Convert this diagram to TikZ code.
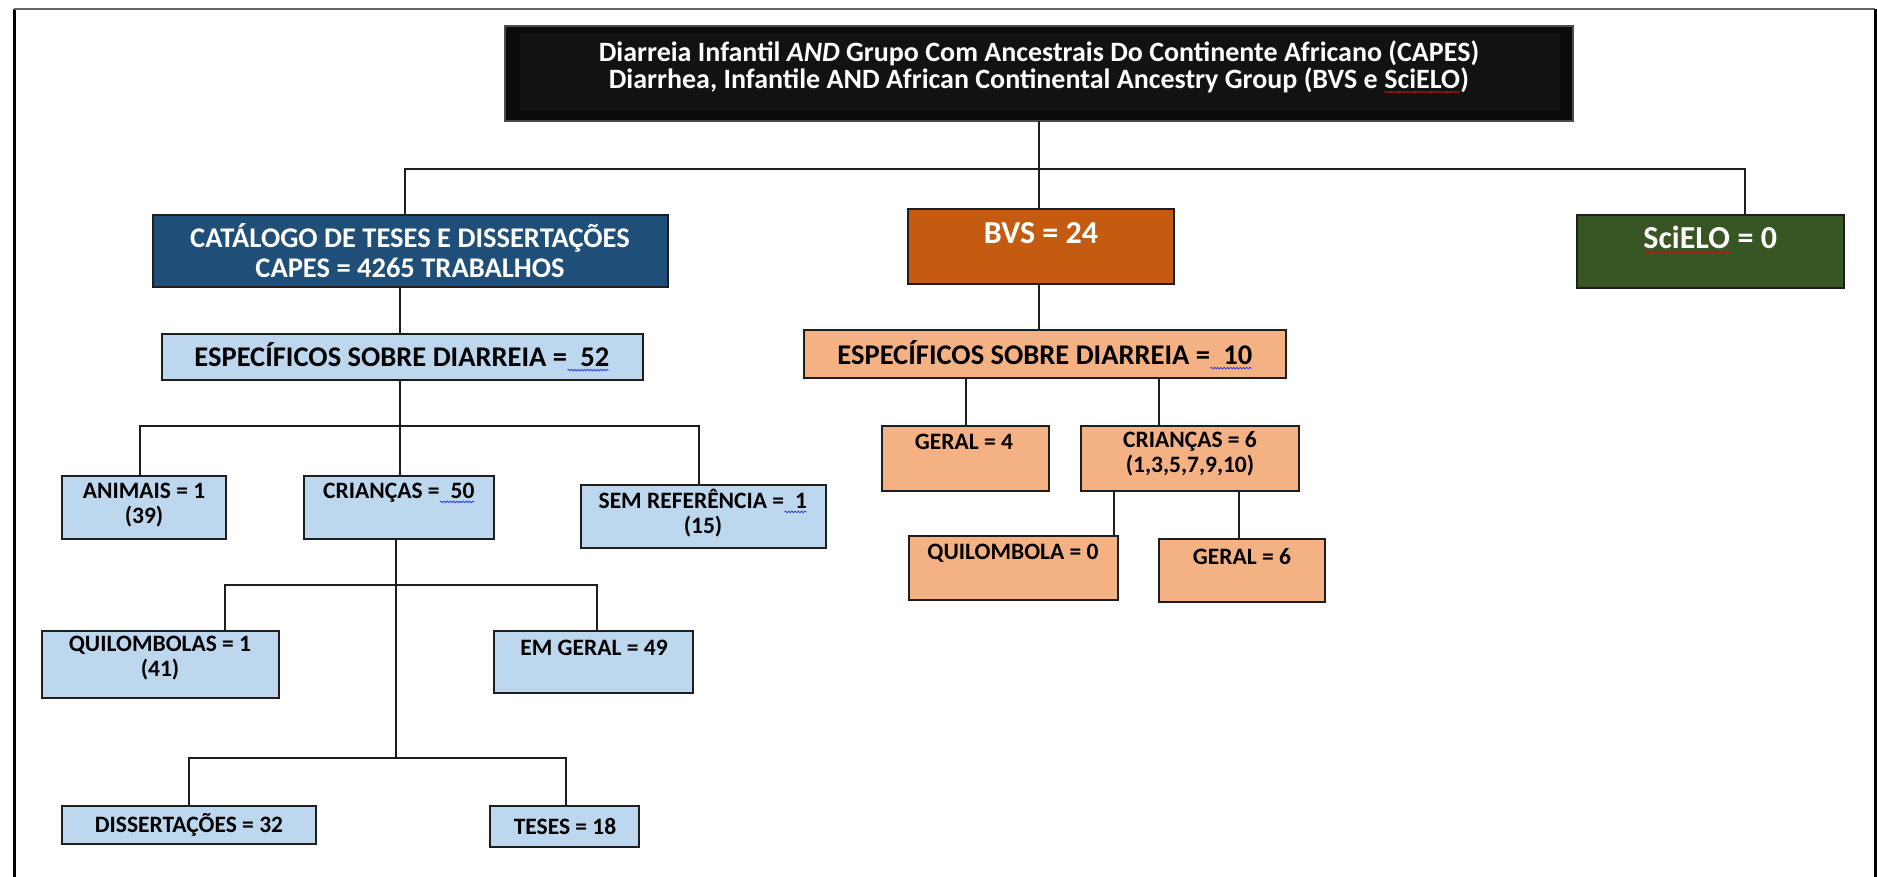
\documentclass[tikz,border=0pt]{standalone}
\usepackage{fontspec}
\setmainfont{Carlito}
\usetikzlibrary{decorations.pathmorphing}
\definecolor{capesblue}{HTML}{1F4E79}
\definecolor{bvsorange}{HTML}{C55A11}
\definecolor{scigreen}{HTML}{375623}
\definecolor{lblue}{HTML}{BDD7EE}
\definecolor{lorange}{HTML}{F4B183}
\definecolor{topfill}{HTML}{0B0B0B}
\definecolor{topinner}{HTML}{121212}
\definecolor{edge}{HTML}{1E1E1E}
\definecolor{wvblue}{HTML}{2030E0}
\definecolor{wvred}{HTML}{D01010}
\newcommand\wv[2]{\tikz[baseline=(wvx.base)]{\node[inner sep=0pt,outer sep=0pt,draw=none,fill=none](wvx){#2};\draw[#1,line width=0.7pt,decorate,decoration={snake,amplitude=0.8pt,segment length=3.2pt}] ([yshift=-3.5pt]wvx.base west) -- ([yshift=-3.5pt]wvx.base east);}}
\newcommand\bx[6]{\node[box,#6,anchor=north west,minimum width={#4-#2},minimum height={#5-#3}] (#1) at (#2,#3) {};}
\tikzset{
  box/.style={draw=edge,line width=1.8pt,inner sep=0pt,outer sep=0pt},
  link/.style={draw=edge,line width=1.7pt},
  txt/.style={inner sep=0pt,align=center},
  bigw/.style={txt,text=white,font=\bfseries\fontsize{28.5}{30}\selectfont},
  hugew/.style={txt,text=white,font=\bfseries\fontsize{32}{36}\selectfont},
  topw/.style={txt,text=white,font=\bfseries\fontsize{28}{27}\selectfont},
  bigk/.style={txt,text=black,font=\bfseries\fontsize{28.5}{30}\selectfont},
  smallk/.style={txt,text=black,font=\bfseries\fontsize{23.5}{25}\selectfont},
}
\begin{document}
\begin{tikzpicture}[x=1pt,y=-1pt]
\useasboundingbox (0,0) rectangle (1877,877);
\fill[white] (0,0) rectangle (1877,877);
% frame
\draw[line width=3pt,black] (14,877) -- (14,9);
\draw[line width=2pt,black!60] (14,9) -- (1875,9);
\draw[line width=3pt,black] (1875,9) -- (1875,877);

% boxes
\bx{top}{505}{26}{1573}{121}{fill=topfill,draw=black!70}
\fill[topinner] (520,33) rectangle (1560,111);
\bx{capes}{153}{215}{668}{287}{fill=capesblue}
\bx{bvs}{908}{209}{1174}{284}{fill=bvsorange}
\bx{scielo}{1577}{215}{1844}{288}{fill=scigreen}
\bx{esp52}{162}{334}{643}{380}{fill=lblue}
\bx{animais}{62}{476}{226}{539}{fill=lblue}
\bx{crian50}{304}{476}{494}{539}{fill=lblue}
\bx{semref}{581}{485}{826}{548}{fill=lblue}
\bx{quil}{42}{631}{279}{698}{fill=lblue}
\bx{emgeral}{494}{631}{693}{693}{fill=lblue}
\bx{diss}{62}{806}{316}{844}{fill=lblue}
\bx{teses}{490}{806}{639}{847}{fill=lblue}
\bx{esp10}{804}{330}{1286}{378}{fill=lorange}
\bx{geral4}{882}{426}{1049}{491}{fill=lorange}
\bx{crian6}{1081}{426}{1299}{491}{fill=lorange}
\bx{quil0}{909}{536}{1118}{600}{fill=lorange}
\bx{geral6}{1159}{539}{1325}{602}{fill=lorange}

% texts
\node[topw] (t-top) at (1039,67) {Diarreia Infantil \textit{AND} Grupo Com Ancestrais Do Continente Africano (CAPES)\\Diarrhea, Infantile AND African Continental Ancestry Group (BVS e \wv{wvred}{SciELO})};
\node[bigw] (t-capes) at (410,251) {CATÁLOGO DE TESES E DISSERTAÇÕES\\CAPES = 4265 TRABALHOS};
\node[hugew] (t-bvs) at (1041,233) {BVS = 24};
\node[hugew] (t-scielo) at (1710,240) {\wv{wvred}{SciELO} = 0};
\node[bigk] (t-esp52) at (402,357) {ESPECÍFICOS SOBRE DIARREIA =\wv{wvblue}{\ \ 52}};
\node[bigk] (t-esp10) at (1045,355) {ESPECÍFICOS SOBRE DIARREIA =\wv{wvblue}{\ \ 10}};
\node[smallk] (t-animais) at (144,505) {ANIMAIS = 1\\(39)};
\node[smallk] (t-crian50) at (399,493) {CRIANÇAS =\wv{wvblue}{\ \ 50}};
\node[smallk] (t-semref) at (703,513) {SEM REFERÊNCIA =\wv{wvblue}{\ \ 1}\\(15)};
\node[smallk] (t-quil) at (160,658) {QUILOMBOLAS = 1\\(41)};
\node[smallk] (t-emgeral) at (594,648) {EM GERAL = 49};
\node[smallk] (t-diss) at (189,825) {DISSERTAÇÕES = 32};
\node[smallk] (t-teses) at (565,826) {TESES = 18};
\node[smallk] (t-geral4) at (964,442) {GERAL = 4};
\node[smallk] (t-crian6) at (1190,454) {CRIANÇAS = 6\\(1,3,5,7,9,10)};
\node[smallk] (t-quil0) at (1013,553) {QUILOMBOLA = 0};
\node[smallk] (t-geral6) at (1242,557) {GERAL = 6};

% connectors
\coordinate (h1l) at (405,169); \coordinate (h1r) at (1745,169); \coordinate (h1m) at (1039,169);
\draw[link] (top.south -| h1m) -- (h1m);
\draw[link] (capes.north -| h1l) |- (h1r) -- (scielo.north -| h1r);
\draw[link] (h1m) -- (bvs.north -| h1m);
\coordinate (c1) at (400,0);
\draw[link] (capes.south -| c1) -- (esp52.north -| c1);
\coordinate (h2l) at (140,426); \coordinate (h2r) at (699,426); \coordinate (h2m) at (400,426);
\draw[link] (esp52.south -| h2m) -- (h2m);
\draw[link] (animais.north -| h2l) |- (h2r) -- (semref.north -| h2r);
\draw[link] (h2m) -- (crian50.north -| h2m);
\coordinate (h3l) at (225,585); \coordinate (h3r) at (597,585); \coordinate (h3m) at (396,585);
\coordinate (h4l) at (189,758); \coordinate (h4r) at (566,758); \coordinate (h4m) at (396,758);
\draw[link] (crian50.south -| h3m) -- (h4m);
\draw[link] (quil.north -| h3l) |- (h3r) -- (emgeral.north -| h3r);
\draw[link] (diss.north -| h4l) |- (h4r) -- (teses.north -| h4r);
\draw[link] (bvs.south -| h1m) -- (esp10.north -| h1m);
\coordinate (b1) at (966,0); \coordinate (b2) at (1159,0);
\draw[link] (esp10.south -| b1) -- (geral4.north -| b1);
\draw[link] (esp10.south -| b2) -- (crian6.north -| b2);
\coordinate (b3) at (1114,0); \coordinate (b4) at (1239,0);
\draw[link] (crian6.south -| b3) -- (quil0.north -| b3);
\draw[link] (crian6.south -| b4) -- (geral6.north -| b4);
\end{tikzpicture}
\end{document}
